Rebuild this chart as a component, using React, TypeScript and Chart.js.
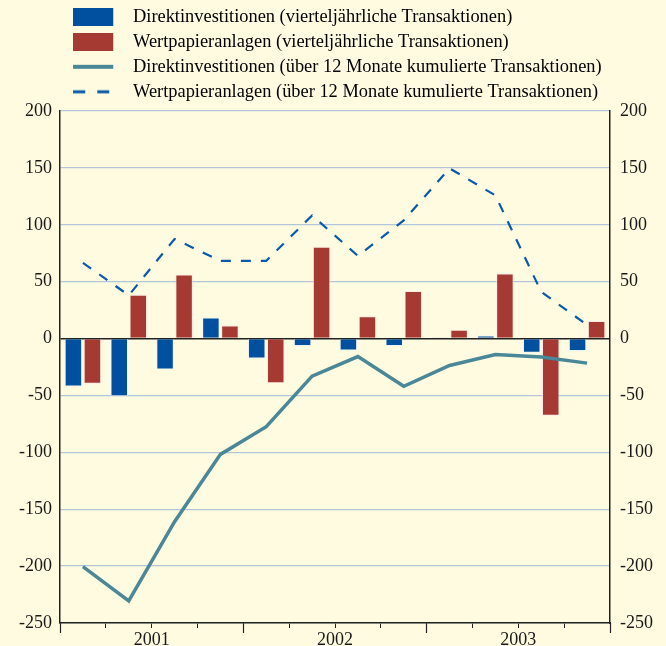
import React, { useEffect, useRef } from 'react';
import { Chart, registerables } from 'chart.js';

Chart.register(...registerables);

// ---- data ----
const quarters = [
  '2001 Q1', '2001 Q2', '2001 Q3', '2001 Q4',
  '2002 Q1', '2002 Q2', '2002 Q3', '2002 Q4',
  '2003 Q1', '2003 Q2', '2003 Q3', '2003 Q4',
];
const yearLabels = ['2001', '2002', '2003'];
const directQuarterly = [-42.2, -50.7, -27.2, 18.6, -17.5, -6.6, -10.5, -6.6, 0.5, 2.7, -12.5, -11.0];
const portfolioQuarterly = [-39.8, 38.6, 56.3, 11.5, -39.2, 80.6, 19.5, 41.9, 7.8, 57.1, -67.8, 15.4];
const directCumulative = [-200.4, -230.5, -161, -101.8, -77.5, -33, -15.8, -41.9, -23.7, -14, -16.3, -21.6];
const portfolioCumulative = [66.5, 38, 87.5, 68.3, 68.3, 108.2, 72.7, 103.8, 149.6, 125.8, 41, 12];
const seriesNames = [
  'Direktinvestitionen (vierteljährliche Transaktionen)',
  'Wertpapieranlagen (vierteljährliche Transaktionen)',
  'Direktinvestitionen (über 12 Monate kumulierte Transaktionen)',
  'Wertpapieranlagen (über 12 Monate kumulierte Transaktionen)',
];
const yMin = -250;
const yMax = 200;
const yStep = 50;

// ---- styles ----
const BG = '#fffbe1';
const BLUE = '#0050a0';
const RED = '#a53a33';
const TEAL = '#4a8898';
const DASH_BLUE = '#0a5aa8';
const GRID = '#b3c6d9';
const AXIS = '#222222';
const TEXT = '#1a1a1a';
const FONT = 'Liberation Serif';

function makeSwatch(kind: string, color: string): HTMLCanvasElement {
  const c = document.createElement('canvas');
  c.width = 44;
  c.height = 18;
  const g = c.getContext('2d')!;
  g.fillStyle = color;
  if (kind === 'box') {
    g.fillRect(0, 0, 40, 18);
  } else if (kind === 'line') {
    g.fillRect(0, 7, 40, 4);
  } else {
    g.fillRect(0, 7.5, 12, 3);
    g.fillRect(24, 7.5, 12, 3);
  }
  return c;
}

export default function App() {
  const ref = useRef<HTMLCanvasElement | null>(null);

  useEffect(() => {
    document.body.style.margin = '0';
    document.body.style.background = BG;
    const canvas = ref.current;
    if (!canvas) return;
    const swatches = [
      makeSwatch('box', BLUE),
      makeSwatch('box', RED),
      makeSwatch('line', TEAL),
      makeSwatch('dash', DASH_BLUE),
    ];

    const chart = new Chart(canvas, {
      type: 'bar',
      data: {
        labels: quarters,
        datasets: [
          {
            type: 'bar',
            label: seriesNames[0],
            data: directQuarterly,
            backgroundColor: BLUE,
            borderColor: 'rgba(235,240,255,0.75)',
            borderWidth: 1,
            xAxisID: 'x',
            yAxisID: 'y',
            order: 2,
            categoryPercentage: 0.83,
            barPercentage: 0.92,
          },
          {
            type: 'bar',
            label: seriesNames[1],
            data: portfolioQuarterly,
            backgroundColor: RED,
            borderColor: 'rgba(255,225,225,0.75)',
            borderWidth: 1,
            xAxisID: 'x',
            yAxisID: 'y',
            order: 2,
            categoryPercentage: 0.83,
            barPercentage: 0.92,
          },
          {
            type: 'line',
            label: seriesNames[2],
            data: directCumulative,
            borderColor: TEAL,
            backgroundColor: TEAL,
            borderWidth: 3.5,
            pointRadius: 0,
            tension: 0,
            xAxisID: 'x',
            yAxisID: 'y',
            order: 0,
          },
          {
            type: 'line',
            label: seriesNames[3],
            data: portfolioCumulative,
            borderColor: DASH_BLUE,
            backgroundColor: DASH_BLUE,
            borderWidth: 2.2,
            borderDash: [10, 10],
            pointRadius: 0,
            tension: 0,
            xAxisID: 'x',
            yAxisID: 'y',
            order: 1,
          },
        ],
      } as any,
      options: {
        responsive: false,
        animation: false,
        devicePixelRatio: 1,
        layout: { padding: { top: 1, left: 0, right: 0, bottom: 0 } },
        plugins: {
          tooltip: { enabled: false },
          legend: {
            position: 'top',
            align: 'start',
            fullSize: false,
            labels: {
              usePointStyle: true,
              pointStyleWidth: 57.2,
              padding: 6.6,
              color: TEXT,
              font: { family: FONT, size: 18.4 },
              generateLabels: (ch: any) =>
                ch.data.datasets.map((ds: any, i: number) => ({
                  text: ds.label,
                  pointStyle: swatches[i],
                  fillStyle: 'rgba(0,0,0,0)',
                  strokeStyle: 'rgba(0,0,0,0)',
                  lineWidth: 0,
                  hidden: false,
                  datasetIndex: i,
                })),
            },
          },
        },
        scales: {
          x: {
            type: 'category',
            display: false,
            offset: true,
          },
          xt: {
            type: 'linear',
            axis: 'x',
            position: 'bottom',
            offset: false,
            min: 0,
            max: quarters.length,
            afterBuildTicks: (s: any) => {
              s.ticks = [...quarters.map((_, i) => ({ value: i })), { value: quarters.length }];
            },
            afterFit: (s: any) => {
              s.height = 23;
            },
            grid: {
              offset: false,
              drawOnChartArea: false,
              drawTicks: true,
              tickLength: 5,
              tickColor: AXIS,
              tickWidth: 1,
            },
            border: { display: true, color: AXIS, width: 1.5 },
            ticks: {
              autoSkip: false,
              maxRotation: 0,
              padding: 1,
              color: TEXT,
              font: { family: FONT, size: 18 },
              callback: (v: any) => {
                const k = (Number(v) - 2) / 4;
                return Number.isInteger(k) && yearLabels[k] ? yearLabels[k] : '';
              },
            },
          },
          xmaj: {
            type: 'linear',
            axis: 'x',
            position: { y: yMin },
            offset: false,
            min: 0,
            max: quarters.length,
            afterBuildTicks: (s: any) => {
              const t = [];
              for (let i = 0; i <= quarters.length; i += 4) t.push({ value: i });
              s.ticks = t;
            },
            grid: {
              offset: false,
              drawOnChartArea: false,
              drawTicks: true,
              tickLength: 10,
              tickColor: AXIS,
              tickWidth: 1.2,
            },
            border: { display: false },
            ticks: { display: false },
          },
          y: {
            type: 'linear',
            position: 'left',
            min: yMin,
            max: yMax,
            afterFit: (s: any) => {
              s.width = 60;
            },
            ticks: {
              stepSize: yStep,
              padding: 8,
              color: TEXT,
              font: { family: FONT, size: 18 },
            },
            grid: {
              drawTicks: false,
              color: (c: any) => (c.tick && c.tick.value === 0 ? AXIS : GRID),
              lineWidth: (c: any) => (c.tick && c.tick.value === 0 ? 1.5 : 1.3),
            },
            border: { display: true, color: AXIS, width: 1.5 },
          },
          y2: {
            type: 'linear',
            position: 'right',
            min: yMin,
            max: yMax,
            afterFit: (s: any) => {
              s.width = 56;
            },
            ticks: {
              stepSize: yStep,
              padding: 10,
              color: TEXT,
              font: { family: FONT, size: 18 },
            },
            grid: { drawOnChartArea: false, drawTicks: false },
            border: { display: true, color: AXIS, width: 1.5 },
          },
        },
      } as any,
    });
    return () => chart.destroy();
  }, []);

  return (
    <div style={{ position: 'fixed', left: 0, top: 0, width: 666, height: 646, background: BG }}>
      <canvas ref={ref} width={666} height={646} style={{ display: 'block' }} />
    </div>
  );
}
